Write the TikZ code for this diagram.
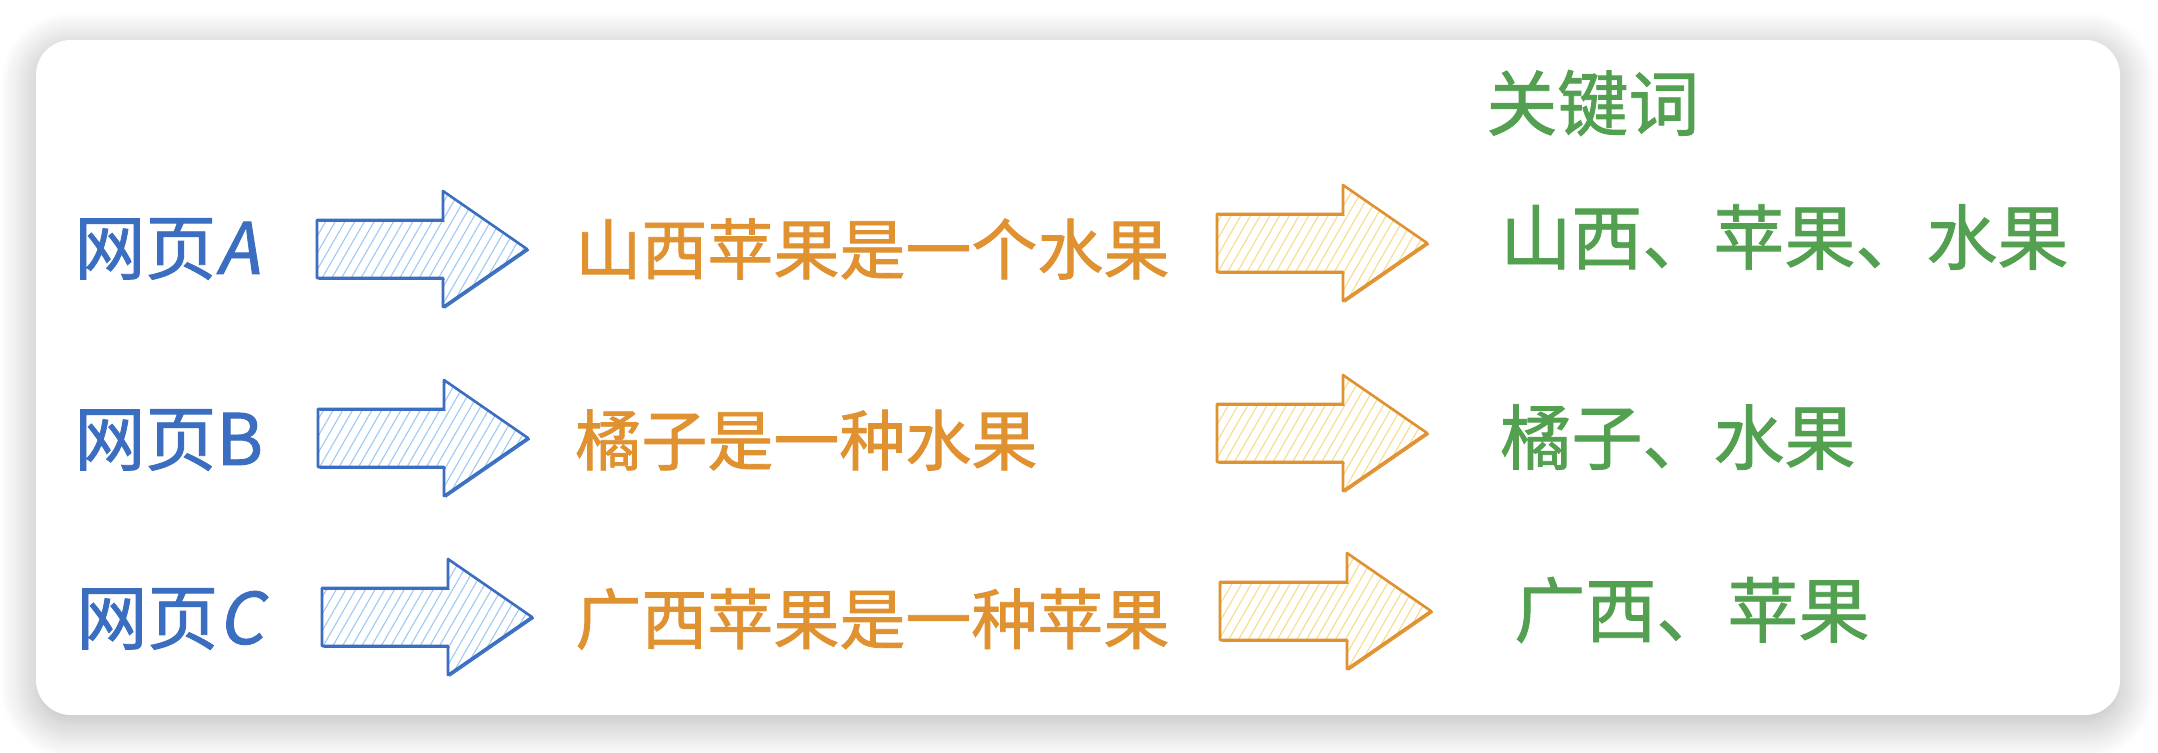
\documentclass[tikz,border=0pt]{standalone}
\usepackage{fontspec}
\setmainfont{Noto Sans CJK SC}[FakeBold=1.2]
\newfontfamily\cjkmain[FakeBold=1.2]{Noto Sans CJK SC}
\newfontfamily\cjksl[FakeSlant=0.18,FakeBold=1.2]{Noto Sans CJK SC}
\usetikzlibrary{patterns.meta,shadows.blur}
\definecolor{cblue}{HTML}{3B6EC0}
\definecolor{corange}{HTML}{E09130}
\definecolor{cgreen}{HTML}{52A050}
\definecolor{hblue}{HTML}{9FC8F3}
\definecolor{horange}{HTML}{F7DC8C}
\newcommand\hatcharrow[5]{% name, tail x, tip x, centre y, style
  \coordinate (#1) at (#2,#4);
  \draw[#5] (#2,#4-29) -- (#3-84,#4-29) -- (#3-84,#4-58) -- (#3,#4) -- (#3-84,#4+58) -- (#3-84,#4+29) -- (#2,#4+29) -- cycle;
  \draw[#5, pattern=none, line width=0.6pt, shift={(1.5,1.2)}] (#2,#4-29) -- (#3-84,#4-29) (#3-84,#4-58) -- (#3,#4) -- (#3-84,#4+58) (#3-84,#4+29) -- (#2,#4+29);
}
\tikzset{
  bluearrow/.style={draw=cblue, line width=1.3pt, line join=round,
    pattern={Lines[angle=60,distance=4.2pt,line width=0.55pt]}, pattern color=hblue},
  orangearrow/.style={draw=corange, line width=1.3pt, line join=round,
    pattern={Lines[angle=60,distance=4.2pt,line width=0.55pt]}, pattern color=horange},
  bluetxt/.style={text=cblue, inner sep=0pt, anchor=west, font=\cjkmain\fontsize{35.5pt}{40pt}\selectfont},
  orangetxt/.style={text=corange, inner sep=0pt, anchor=west, font=\cjkmain\fontsize{33pt}{38pt}\selectfont},
  greentxt/.style={text=cgreen, inner sep=0pt, anchor=west, font=\cjkmain\fontsize{35.5pt}{40pt}\selectfont},
}
\begin{document}
\begin{tikzpicture}[x=0.5pt,y=-0.5pt]
\useasboundingbox (0,0) rectangle (2158,752);
\path[fill=white, rounded corners=17.5pt,
  blur shadow={shadow xshift=0pt, shadow yshift=-4pt, shadow blur radius=18pt, shadow blur steps=20, shadow opacity=30}]
  (36,40) rectangle (2120,715);

\node[greentxt] (kw) at (1486,103) {关键词};

% row A
\node[bluetxt] (wa) at (74,249) {网页{\cjksl A}};
\hatcharrow{ba}{317}{527}{249}{bluearrow}
\node[orangetxt] (ta) at (575,249) {山西苹果是一个水果};
\hatcharrow{oa}{1217}{1427}{243}{orangearrow}
\node[greentxt] (kc0) at (1500,237) {山西、苹果、水果};

% row B
\node[bluetxt] (wb) at (74,440) {网页B};
\hatcharrow{bb}{318}{528}{438}{bluearrow}
\node[orangetxt] (tb) at (575,440) {橘子是一种水果};
\hatcharrow{ob}{1217}{1427}{433}{orangearrow}
\node[greentxt] (kb) at (1500,437) {橘子、水果};

% row C
\node[bluetxt] (wc) at (76,619) {网页{\cjksl C}};
\hatcharrow{bc}{322}{532}{617}{bluearrow}
\node[orangetxt] (tc) at (575,619) {广西苹果是一种苹果};
\hatcharrow{oc}{1220}{1431}{611}{orangearrow}
\node[greentxt] (kc) at (1514,610) {广西、苹果};
\end{tikzpicture}
\end{document}
